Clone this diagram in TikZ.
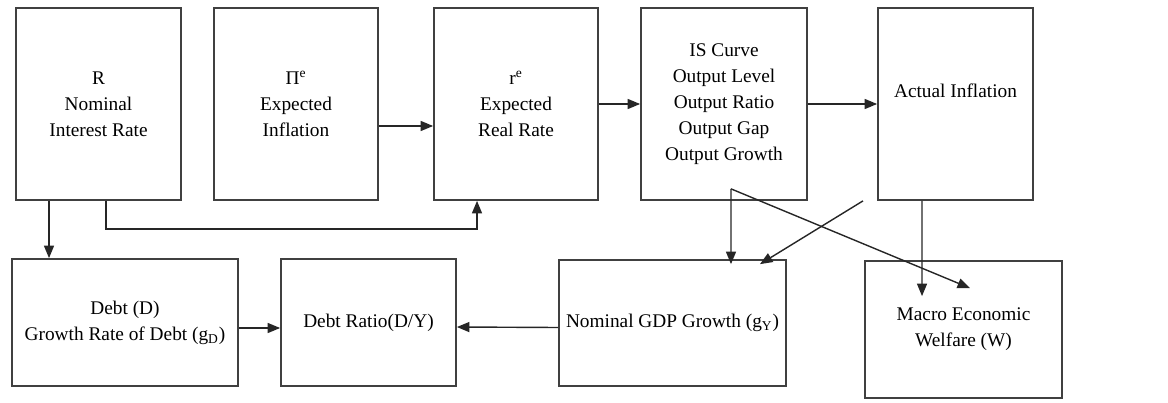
\documentclass[tikz,border=0pt]{standalone}
\usepackage{fontspec}
\setmainfont{Liberation Serif}
\usetikzlibrary{arrows.meta,calc,positioning}

\begin{document}
\begin{tikzpicture}[x=0.02cm, y=-0.02cm, font=\fontsize{11}{14.8}\selectfont,
  >={Triangle[length=0.25cm,width=0.2cm]},
  line/.style={draw=black!85, line width=0.8pt},
  box/.style={draw=black!75, line width=1pt, align=center, inner sep=2pt}]
  \useasboundingbox (0,0) rectangle (1168,402);
  \node[box, minimum width=3.3cm, minimum height=3.84cm] (rate) at (98.5,104) {R\\Nominal\\Interest Rate};
  \node[box, minimum width=3.28cm, minimum height=3.84cm] (expinf) at (296,104) {Π\textsuperscript{e}\\Expected\\Inflation};
  \node[box, minimum width=3.28cm, minimum height=3.84cm] (realrate) at (516,104) {r\textsuperscript{e}\\Expected\\Real Rate};
  \node[box, minimum width=3.32cm, minimum height=3.84cm] (iscurve) at (724,104) {IS Curve\\Output Level\\Output Ratio\\Output Gap\\Output Growth};
  \node[box, minimum width=3.1cm, minimum height=3.84cm,
    label={[yshift=0.26cm]center:Actual Inflation}] (actinf) at (955.5,104) {};
  \node[box, minimum width=4.52cm, minimum height=2.54cm] (debt) at (125,322.5) {Debt (D)\\Growth Rate of Debt (g\textsubscript{D})};
  \node[box, minimum width=3.5cm, minimum height=2.54cm] (ratio) at (368.5,322.5) {Debt Ratio(D/Y)};
  \node[box, minimum width=4.54cm, minimum height=2.52cm] (gdp) at (672.5,323) {Nominal GDP Growth (g\textsubscript{Y})};
  \node[box, minimum width=3.94cm, minimum height=2.74cm] (welfare) at (963.5,329.5) {Macro Economic\\Welfare (W)};
  \coordinate (isout) at ([xshift=0.14cm,yshift=0.24cm]iscurve.south);
  \draw[line, ->] ([yshift=-0.44cm]expinf.east) -- ([yshift=-0.44cm]realrate.west);
  \draw[line, ->] (realrate.east) -- (iscurve.west);
  \draw[line, ->] (iscurve.east) -- (actinf.west);
  \draw[line, ->] ([xshift=-0.99cm]rate.south) -- ([xshift=-0.99cm]rate.south |- debt.north);
  \draw[line, ->] ([xshift=0.15cm]rate.south) -- ++(0,-0.56cm) -| ([xshift=-0.78cm]realrate.south);
  \draw[line, ->] ([yshift=-0.11cm]debt.east) -- ([yshift=-0.11cm]ratio.west);
  \draw[line, ->] ([yshift=-0.09cm]gdp.west) -- ([yshift=-0.09cm]ratio.east);
  \draw[line, ->] (isout) -- ([xshift=1.17cm,yshift=-0.1cm]gdp.north);
  \draw[line, ->] (isout) -- ([xshift=0.13cm,yshift=-0.56cm]welfare.north);
  \draw[line, ->] ([xshift=-1.85cm]actinf.south) -- ([xshift=1.75cm,yshift=-0.1cm]gdp.north);
  \draw[line, ->] ([xshift=-0.67cm]actinf.south) -- ([xshift=-0.83cm,yshift=-0.72cm]welfare.north);
\end{tikzpicture}
\end{document}
